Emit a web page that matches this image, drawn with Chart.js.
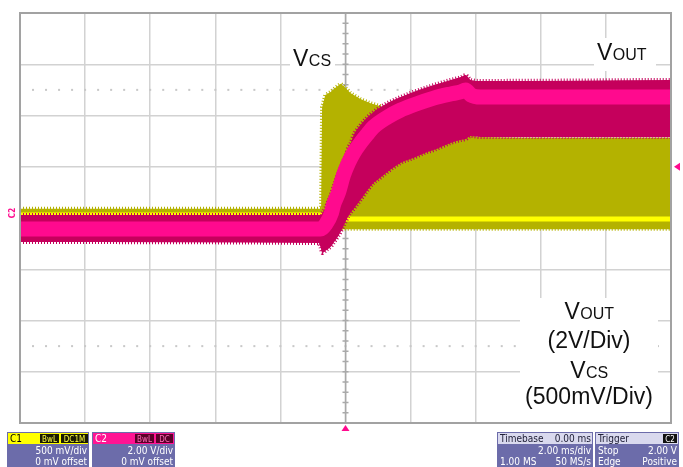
<!DOCTYPE html>
<html><head><meta charset="utf-8">
<script src="https://cdn.jsdelivr.net/npm/chart.js@4.4.1/dist/chart.umd.min.js"></script>
<style>html,body{margin:0;padding:0;background:#fff;overflow:hidden}canvas{display:block}</style>
</head><body>
<canvas id="scope" width="683" height="467"></canvas>
<script>
// ---------------- data ----------------
// horizontal: time in ms, 2.00 ms/div, 10 divisions, trigger at 0
const timeRange = [-10, 10];
const timeStep = 2;
// C1 = V_CS, 500 mV/div, 8 divisions (volts)
const vcsRange = [-2, 2];
const vcsStep = 0.5;
const vcsTime = [-10, -0.75, -0.72, -0.62, -0.46, -0.31, -0.15, 0, 0.15, 0.46, 0.77, 1.08, 1.38, 1.7, 2.3, 2.9, 3.5, 3.65, 3.72, 3.8, 4.0, 5.4, 10];
const vcsHigh = [0.09, 0.09, 1.08, 1.20, 1.23, 1.27, 1.31, 1.27, 1.22, 1.16, 1.12, 1.09, 1.05, 1.01, 0.96, 0.91, 0.86, 0.88, 1.00, 0.84, 0.79, 0.78, 0.78];
const vcsLow  = [-0.02, -0.02, -0.11, -0.11, -0.11, -0.11, -0.11, -0.11, -0.11, -0.11, -0.11, -0.11, -0.11, -0.11, -0.11, -0.11, -0.11, -0.11, -0.11, -0.11, -0.11, -0.11, -0.11];
const vcsMeanTime = [-10, -0.74, -0.72, 10];
const vcsMean = [0.03, 0.03, -0.01, -0.01];
// C2 = V_OUT, 2.00 V/div (volts)
const voutRange = [-8, 8];
const voutTime = [-10, -0.83, -0.77, -0.71, -0.62, -0.58, -0.43, -0.37, -0.22, -0.15, -0.06, 0, 0.09, 0.15, 0.25, 0.46, 0.68, 0.86, 0.98, 1.29, 1.69, 2.0, 2.52, 2.71, 3.23, 3.54, 3.69, 3.85, 4.15, 10];
const voutHigh = [0.12, 0.12, 0.12, 0.20, 0.39, 0.51, 0.98, 1.21, 1.76, 1.95, 2.26, 2.42, 2.77, 2.89, 3.24, 3.63, 3.94, 4.14, 4.25, 4.49, 4.72, 4.88, 5.11, 5.19, 5.39, 5.50, 5.58, 5.39, 5.35, 5.39];
const voutLow  = [-0.94, -0.98, -1.13, -1.37, -1.29, -1.25, -1.09, -0.98, -0.70, -0.55, -0.31, -0.16, 0.08, 0.20, 0.35, 0.70, 1.09, 1.37, 1.48, 1.80, 2.15, 2.30, 2.58, 2.65, 2.93, 3.04, 3.08, 3.20, 3.16, 3.16];
const voutMeanTime = [-10, -0.77, -0.71, -0.62, -0.43, -0.37, -0.22, -0.06, 0.09, 0.25, 0.46, 0.68, 0.86, 1.29, 1.69, 2.0, 2.71, 3.23, 3.54, 3.69, 3.85, 4.15, 10];
const voutMean = [-0.43, -0.43, -0.39, -0.27, 0.20, 0.51, 0.98, 1.68, 2.15, 2.54, 2.93, 3.28, 3.55, 3.94, 4.21, 4.37, 4.68, 4.84, 4.92, 5.00, 4.80, 4.72, 4.72];
const triggerLevel = 2.0;          // V on C2
const dottedLevels = [1.25, -1.25]; // C1 volts (+-2.5 div)

// status-bar texts
const chanBoxes = [
  {name: 'C1', tags: ['BwL', 'DC1M'], lines: ['500 mV/div', '0 mV offset']},
  {name: 'C2', tags: ['BwL', 'DC'], lines: ['2.00 V/div', '0 mV offset']}
];
const timebaseBox = {title: 'Timebase', value: '0.00 ms', lines: [['', '2.00 ms/div'], ['1.00 MS', '50 MS/s']]};
const triggerBox = {title: 'Trigger', tag: 'C2', lines: [['Stop', '2.00 V'], ['Edge', 'Positive']]};

// ---------------- helpers ----------------
const pts = (t, v) => t.map((x, i) => ({x, y: v[i]}));
const OLIVE = '#b4b200', YEL = '#ffff00', MAG = '#c5005c', PINK = '#ff0a8e';
const SANS = "'Liberation Sans', Arial, sans-serif";
const NARROW = "'Liberation Sans Narrow','DejaVu Sans Condensed','Liberation Sans',sans-serif";

function subLabel(ctx, big, small, x, y, align) {
  ctx.font = '23px ' + SANS;
  const w1 = ctx.measureText(big).width;
  ctx.font = '16px ' + SANS;
  const w2 = ctx.measureText(small).width;
  let x0 = align === 'center' ? x - (w1 + w2) / 2 : x;
  ctx.textAlign = 'left'; ctx.textBaseline = 'alphabetic'; ctx.fillStyle = '#111';
  ctx.font = '23px ' + SANS; ctx.fillText(big, x0, y);
  ctx.font = '16px ' + SANS; ctx.fillText(small, x0 + w1 + 0.5, y);
}

function tri(ctx, p) {
  ctx.beginPath(); ctx.moveTo(p[0], p[1]); ctx.lineTo(p[2], p[3]); ctx.lineTo(p[4], p[5]); ctx.closePath(); ctx.fill();
}

function drawStatus(ctx) {
  const top = 432, head = 11, bot = 467, body = '#6c6caa';
  const b1 = 454, b2 = 465;
  ctx.textBaseline = 'alphabetic';
  const chanGeom = [
    {x0: 7, x1: 89, fill: '#ffff00', nameCol: '#000', tagBg: '#1a1a00', tagCol: '#ffff40', tagX: [40, 61], tagW: [19, 27]},
    {x0: 92, x1: 175, fill: '#ff1493', nameCol: '#fff', tagBg: '#5a0028', tagCol: '#ff6ab8', tagX: [135, 156], tagW: [19, 17]}
  ];
  chanBoxes.forEach((c, i) => {
    const g = chanGeom[i];
    ctx.fillStyle = body; ctx.fillRect(g.x0, top, g.x1 - g.x0, bot - top);
    ctx.fillStyle = g.fill; ctx.fillRect(g.x0 + 1, top + 1, g.x1 - g.x0 - 2, head);
    ctx.font = '10px ' + NARROW; ctx.textAlign = 'left'; ctx.fillStyle = g.nameCol;
    ctx.fillText(c.name, g.x0 + 3, top + 10);
    c.tags.forEach((t, k) => {
      ctx.fillStyle = g.tagBg; ctx.fillRect(g.tagX[k], top + 2, g.tagW[k], head - 2);
      ctx.fillStyle = g.tagCol; ctx.font = '8px ' + NARROW; ctx.textAlign = 'center';
      ctx.fillText(t, g.tagX[k] + g.tagW[k] / 2, top + 10);
    });
    ctx.fillStyle = '#fff'; ctx.font = '10px ' + NARROW; ctx.textAlign = 'right';
    ctx.fillText(c.lines[0], g.x1 - 2, b1);
    ctx.fillText(c.lines[1], g.x1 - 2, b2);
  });
  // timebase
  const tb = {x0: 497, x1: 593};
  ctx.fillStyle = body; ctx.fillRect(tb.x0, top, tb.x1 - tb.x0, bot - top);
  ctx.fillStyle = '#d9d9ee'; ctx.fillRect(tb.x0 + 1, top + 1, tb.x1 - tb.x0 - 2, head);
  ctx.font = '10px ' + NARROW; ctx.fillStyle = '#202038';
  ctx.textAlign = 'left'; ctx.fillText(timebaseBox.title, tb.x0 + 3, top + 10);
  ctx.textAlign = 'right'; ctx.fillText(timebaseBox.value, tb.x1 - 2, top + 10);
  ctx.fillStyle = '#fff';
  [b1, b2].forEach((bl, k) => {
    ctx.textAlign = 'left'; ctx.fillText(timebaseBox.lines[k][0], tb.x0 + 3, bl);
    ctx.textAlign = 'right'; ctx.fillText(timebaseBox.lines[k][1], tb.x1 - 2, bl);
  });
  // trigger
  const tr = {x0: 595, x1: 679};
  ctx.fillStyle = body; ctx.fillRect(tr.x0, top, tr.x1 - tr.x0, bot - top);
  ctx.fillStyle = '#d9d9ee'; ctx.fillRect(tr.x0 + 1, top + 1, tr.x1 - tr.x0 - 2, head);
  ctx.fillStyle = '#202038'; ctx.textAlign = 'left'; ctx.font = '10px ' + NARROW;
  ctx.fillText(triggerBox.title, tr.x0 + 3, top + 10);
  ctx.fillStyle = '#111'; ctx.fillRect(tr.x1 - 16, top + 2, 14, head - 2);
  ctx.fillStyle = '#fff'; ctx.font = '8px ' + NARROW; ctx.textAlign = 'center';
  ctx.fillText(triggerBox.tag, tr.x1 - 9, top + 10);
  ctx.font = '10px ' + NARROW;
  [b1, b2].forEach((bl, k) => {
    ctx.textAlign = 'left'; ctx.fillText(triggerBox.lines[k][0], tr.x0 + 3, bl);
    ctx.textAlign = 'right'; ctx.fillText(triggerBox.lines[k][1], tr.x1 - 2, bl);
  });
}

const scopePlugin = {
  id: 'scope',
  beforeDatasetsDraw(chart) {
    const {ctx, chartArea: a, scales} = chart;
    const xs = scales.x, ys = scales.y;
    ctx.save();
    ctx.fillStyle = '#c8c8c8';
    dottedLevels.forEach(v => {
      const py = ys.getPixelForValue(v);
      for (let t = timeRange[0] + 0.4; t < timeRange[1]; t += 0.4) {
        const px = xs.getPixelForValue(t);
        ctx.fillRect(px - 1, py - 1, 2, 2);
      }
    });
    const cx = xs.getPixelForValue(0), cy = ys.getPixelForValue(0);
    ctx.strokeStyle = '#a9a9a9'; ctx.lineWidth = 1.5;
    ctx.beginPath();
    ctx.moveTo(cx, a.top); ctx.lineTo(cx, a.bottom);
    ctx.moveTo(a.left, cy); ctx.lineTo(a.right, cy);
    for (let v = vcsRange[0]; v <= vcsRange[1] + 1e-9; v += vcsStep / 5) {
      const py = ys.getPixelForValue(v); ctx.moveTo(cx - 3, py); ctx.lineTo(cx + 3, py);
    }
    for (let t = timeRange[0]; t <= timeRange[1] + 1e-9; t += timeStep / 5) {
      const px = xs.getPixelForValue(t); ctx.moveTo(px, cy - 3); ctx.lineTo(px, cy + 3);
    }
    ctx.stroke();
    ctx.restore();
  },
  afterDatasetsDraw(chart) {
    const {ctx, chartArea: a, scales} = chart;
    ctx.save();
    ctx.strokeStyle = '#a2a2a2'; ctx.lineWidth = 2;
    ctx.strokeRect(a.left, a.top, a.width, a.height);
    ctx.fillStyle = '#fff';
    ctx.fillRect(290, 45, 45, 26);
    ctx.fillRect(594, 38, 62, 33);
    ctx.fillRect(520, 298, 138, a.bottom - 299);
    subLabel(ctx, 'V', 'CS', 293, 66, 'left');
    subLabel(ctx, 'V', 'OUT', 597, 60, 'left');
    const mx = 589;
    subLabel(ctx, 'V', 'OUT', mx, 319, 'center');
    ctx.font = '23px ' + SANS; ctx.textAlign = 'center'; ctx.fillStyle = '#111';
    ctx.fillText('(2V/Div)', mx, 348);
    subLabel(ctx, 'V', 'CS', mx, 378, 'center');
    ctx.font = '23px ' + SANS; ctx.textAlign = 'center'; ctx.fillStyle = '#111';
    ctx.fillText('(500mV/Div)', mx, 404);
    ctx.fillStyle = PINK;
    const cx = scales.x.getPixelForValue(0);
    tri(ctx, [cx, a.bottom + 2, cx - 4, a.bottom + 8, cx + 4, a.bottom + 8]);
    const ty = scales.y2.getPixelForValue(triggerLevel);
    tri(ctx, [a.right + 3, ty, a.right + 9, ty - 4, a.right + 9, ty + 4]);
    ctx.save();
    ctx.translate(13, scales.y2.getPixelForValue(0) - 5);
    ctx.rotate(-Math.PI / 2);
    ctx.font = 'bold 8px ' + NARROW; ctx.textAlign = 'center'; ctx.textBaseline = 'middle';
    ctx.fillStyle = PINK; ctx.fillText('C2', 0, 0);
    ctx.restore();
    ctx.restore();
  },
  afterDraw(chart) {
    const ctx = chart.ctx;
    ctx.save(); drawStatus(ctx); ctx.restore();
  }
};

const gridOpts = {color: '#d2d2d2', lineWidth: 1.5, drawTicks: false};
const fuzz = [1, 2];
new Chart(document.getElementById('scope'), {
  type: 'line',
  data: {
    datasets: [
      {label: 'VCS envelope', data: pts(vcsTime, vcsHigh), yAxisID: 'y', borderColor: OLIVE, borderWidth: 4, borderDash: fuzz, pointRadius: 0, fill: '+1', backgroundColor: OLIVE, order: 6},
      {label: 'VCS envelope low', data: pts(vcsTime, vcsLow), yAxisID: 'y', borderColor: OLIVE, borderWidth: 3, borderDash: fuzz, pointRadius: 0, fill: false, order: 6},
      {label: 'VCS', data: pts(vcsMeanTime, vcsMean), yAxisID: 'y', borderColor: YEL, borderWidth: 5, pointRadius: 0, fill: false, order: 4},
      {label: 'VOUT envelope', data: pts(voutTime, voutHigh), yAxisID: 'y2', borderColor: MAG, borderWidth: 4, borderDash: fuzz, pointRadius: 0, fill: '+1', backgroundColor: MAG, cubicInterpolationMode: 'monotone', order: 3},
      {label: 'VOUT envelope low', data: pts(voutTime, voutLow), yAxisID: 'y2', borderColor: MAG, borderWidth: 4, borderDash: fuzz, pointRadius: 0, fill: false, cubicInterpolationMode: 'monotone', order: 3},
      {label: 'VOUT', data: pts(voutMeanTime, voutMean), yAxisID: 'y2', borderColor: PINK, borderWidth: 15, pointRadius: 0, fill: false, cubicInterpolationMode: 'monotone', order: 1}
    ]
  },
  options: {
    responsive: false, animation: false, devicePixelRatio: 1,
    layout: {padding: {left: 20, top: 13, right: 12, bottom: 44}},
    plugins: {legend: {display: false}, tooltip: {enabled: false}},
    scales: {
      x: {type: 'linear', min: timeRange[0], max: timeRange[1], ticks: {display: false, stepSize: timeStep}, grid: gridOpts, border: {display: false}},
      y: {type: 'linear', min: vcsRange[0], max: vcsRange[1], ticks: {display: false, stepSize: vcsStep}, grid: gridOpts, border: {display: false}},
      y2: {type: 'linear', display: false, min: voutRange[0], max: voutRange[1]}
    }
  },
  plugins: [scopePlugin]
});
</script>
</body></html>
